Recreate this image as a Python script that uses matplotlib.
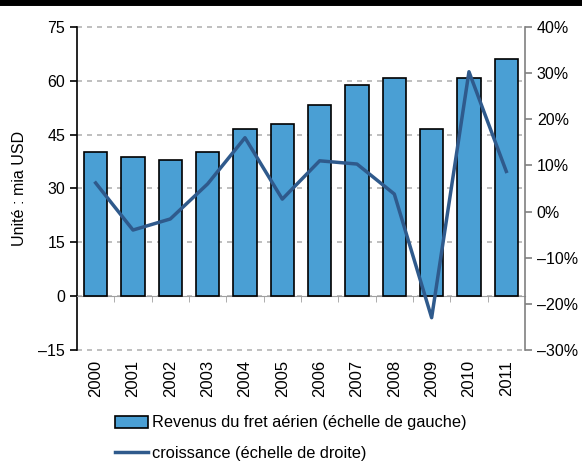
import numpy as np
import matplotlib.pyplot as plt
from matplotlib.lines import Line2D
from matplotlib.ticker import FixedLocator

plt.rcParams['font.family'] = ['Liberation Sans', 'DejaVu Sans']
plt.rcParams['font.size'] = 11.5

# Data
years = ['2000', '2001', '2002', '2003', '2004', '2005',
         '2006', '2007', '2008', '2009', '2010', '2011']
revenus = [40.1, 38.7, 37.9, 40.1, 46.5, 47.9, 53.2, 58.8, 60.7, 46.5, 60.7, 66.0]
croissance = [6.2, -4.0, -1.6, 6.0, 16.0, 2.7, 11.0, 10.3, 3.8, -23.0, 30.3, 8.7]

fig = plt.figure(figsize=(5.82, 4.62), dpi=100)
ax = fig.add_axes([0.1323, 0.2424, 0.7697, 0.6992])
x = np.arange(len(years))

ax.bar(x, revenus, width=0.62, color='#4a9fd4', edgecolor='black', linewidth=1.2, zorder=3)
ax.set_xlim(-0.5, len(years) - 0.5)
ax.set_ylim(-15, 75)
ax.set_yticks(np.arange(-15, 76, 15))
ax.set_yticklabels([str(v).replace('-', '\u2013') for v in range(-15, 76, 15)])
ax.grid(axis='y', linestyle=(0, (3, 3)), color='#b4b4b4', linewidth=1.2, zorder=0)
for gl in ax.yaxis.get_gridlines():
    gl.set_clip_on(False)
ax.set_ylabel('Unité : mia USD', labelpad=8)

# x axis at zero with small ticks between categories, labels below the plot
ax.spines['bottom'].set_position(('data', 0))
ax.spines['bottom'].set_color('#a0a0a0')
ax.spines['top'].set_visible(False)
ax.spines['right'].set_visible(False)
ax.set_xticks(x)
ax.set_xticklabels(years, rotation=90, fontsize=12)
ax.tick_params(axis='x', which='major', length=0, pad=46)
ax.xaxis.set_minor_locator(FixedLocator(x[1:] - 0.5))
ax.tick_params(axis='x', which='minor', length=4, color='#a0a0a0', direction='out')
ax.spines['left'].set_linewidth(1.2)
ax.tick_params(axis='y', length=5, width=1.2, direction='out')

ax2 = ax.twinx()
ax2.plot(x, croissance, color='#2f5a8c', linewidth=2.5, zorder=4)
ax2.set_ylim(-30, 40)
ax2.set_yticks(np.arange(-30, 41, 10))
ax2.set_yticklabels([f'{v}%'.replace('-', '\u2013') for v in range(-30, 41, 10)])
for s in ['top', 'left', 'bottom']:
    ax2.spines[s].set_visible(False)
ax2.spines['right'].set_color('#808080')
ax2.spines['right'].set_linewidth(1.2)
ax2.tick_params(axis='y', length=5, width=1.2, color='#808080', direction='out')

# top black band
fig.add_artist(Line2D([0, 1], [0.995, 0.995], transform=fig.transFigure,
                      color='black', linewidth=5))

handles = [plt.Rectangle((0, 0), 1, 1, facecolor='#4a9fd4', edgecolor='black', linewidth=1.2),
           Line2D([0], [0], color='#2f5a8c', linewidth=2.5)]
labels = ['Revenus du fret aérien (échelle de gauche)', 'croissance (échelle de droite)']
fig.legend(handles, labels, loc='upper left', bbox_to_anchor=(0.197, 0.101),
           frameon=False, fontsize=11.8, handlelength=2.05, handleheight=0.75,
           handletextpad=0.25, labelspacing=0.95, borderaxespad=0, borderpad=0)

fig.savefig('out.png', dpi=100)
